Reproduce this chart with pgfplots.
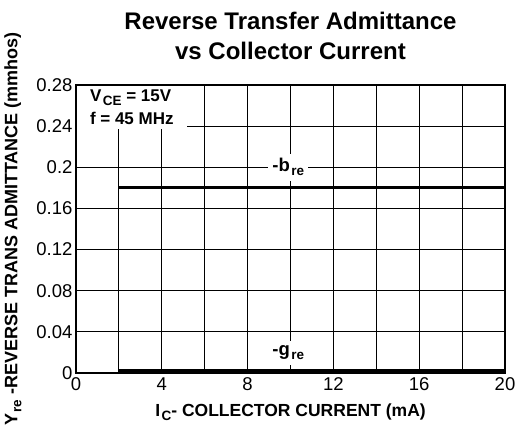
\documentclass[border=0pt]{standalone}
\usepackage{fontspec}
\setmainfont{Liberation Sans}
\usepackage{pgfplots}
\pgfplotsset{compat=1.18}
\newcommand{\sub}[1]{\kern1.5pt\raisebox{-0.4ex}{\fontsize{13.5}{14}\selectfont #1}}
\begin{document}
\begin{tikzpicture}
\begin{axis}[
  name=ax,
  scale only axis,
  width=429pt, height=288pt,
  xmin=0, xmax=20, ymin=0, ymax=0.28,
  xtick={0,4,...,20},
  minor xtick={2,6,...,18},
  ytick={0,0.04,...,0.28},
  yticklabels={0,0.04,0.08,0.12,0.16,0.2,0.24,0.28},
  xmajorgrids, xminorgrids, ymajorgrids,
  grid style={black, line width=1.1pt},
  minor grid style={black, line width=1.1pt},
  axis line style={black, line width=1.5pt},
  major tick length=5pt, minor tick length=0pt,
  tick style={black, line width=1.1pt},
  /pgf/number format/assume math mode=true,
  tick label style={font=\fontsize{18.5}{20}\selectfont},
  xticklabel style={yshift=-1pt},
  title={Reverse Transfer Admittance\\vs Collector Current},
  title style={font=\fontsize{24}{30}\selectfont\bfseries, align=center,
    at={(axis description cs:0.5,1.148)}, anchor=center},
  xlabel={I\sub{C}- COLLECTOR CURRENT (mA)},
  xlabel style={font=\fontsize{17.5}{20}\selectfont\bfseries,
    at={(axis description cs:0.5,-0.135)}, anchor=center},
  ylabel={Y\sub{re} -REVERSE TRANS ADMITTANCE (mmhos)},
  ylabel style={font=\fontsize{18}{20}\selectfont\bfseries,
    at={(axis description cs:-0.147,0.5)}, anchor=center},
]
\addplot[black, line width=3pt, line cap=butt] coordinates {(2,0.18) (20,0.18)};
\addplot[black, line width=3pt, line cap=butt] coordinates {(2,0.002) (20,0.002)};
\node[fill=white, anchor=north west, inner xsep=13pt, inner ysep=4pt, align=left,
  font=\fontsize{17}{23}\selectfont\bfseries, xshift=0.8pt, yshift=-0.8pt]
  at (axis cs:0,0.28) {V\sub{CE} = 15V\\f = 45 MHz};
\node[fill=white, inner xsep=4pt, inner ysep=5pt, font=\fontsize{18.5}{20}\selectfont\bfseries]
  at (axis cs:9.9,0.2) {-b\sub{re}};
\node[fill=white, inner xsep=4pt, inner ysep=5pt, font=\fontsize{18.5}{20}\selectfont\bfseries]
  at (axis cs:9.9,0.0195) {-g\sub{re}};
\end{axis}
\pgfresetboundingbox
\path[use as bounding box] ([shift={(-76pt,-60pt)}]ax.south west) rectangle ([shift={(11pt,85pt)}]ax.north east);
\end{tikzpicture}
\end{document}
